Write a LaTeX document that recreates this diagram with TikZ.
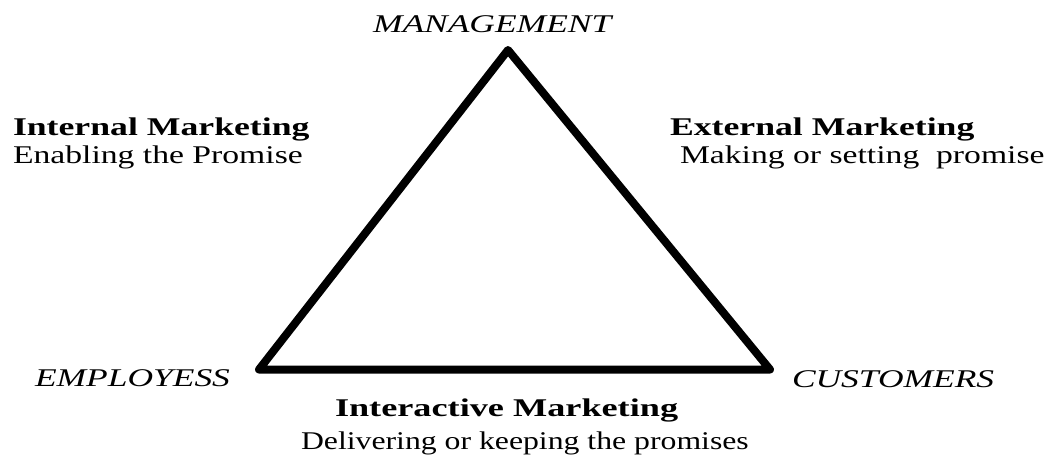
\documentclass[tikz,border=0pt]{standalone}
\usepackage{fontspec}
\setmainfont{Liberation Serif}[
  FakeStretch=1.32,
  BoldFeatures={FakeStretch=1.40},
  ItalicFeatures={FakeStretch=1.39}]
\begin{document}
\begin{tikzpicture}[x=1pt,y=-1pt,
  lbl/.style={anchor=base west,inner sep=0pt,outer sep=0pt,font=\fontsize{25.5}{30}\selectfont},
  corner/.style={lbl,font=\fontsize{25.5}{30}\selectfont\itshape},
  head/.style={lbl,font=\fontsize{25.5}{30}\selectfont\bfseries},
  edge/.style={line width=8pt,line join=round,line cap=round}]
\useasboundingbox (0,0) rectangle (1052,458);

% corners of the triangle
\coordinate (apex) at (508,50);
\coordinate (left) at (259,369.5);
\coordinate (right) at (770,369.5);
\draw[edge] (apex) -- (left) -- (right) -- cycle;

% parties at the corners
\node[corner] (mgmt) at (373,32) {MANAGEMENT};
\node[corner] (emp) at (35,386) {EMPLOYESS};
\node[corner] (cust) at (792,387) {CUSTOMERS};

% kinds of marketing along the sides
\node[head] (intH) at (13,135) {Internal Marketing};
\node[lbl]  (intT) at (13,163) {Enabling the Promise};
\node[head] (extH) at (670,135) {External Marketing};
\node[lbl]  (extT) at (680,163) {Making or setting\ \ promise};
\node[head] (iacH) at (335,416) {\scalebox{1.015}[1]{Interactive Marketing}};
\node[lbl]  (iacT) at (301,449) {\scalebox{0.943}[1]{Delivering or keeping the promises}};
\end{tikzpicture}
\end{document}
